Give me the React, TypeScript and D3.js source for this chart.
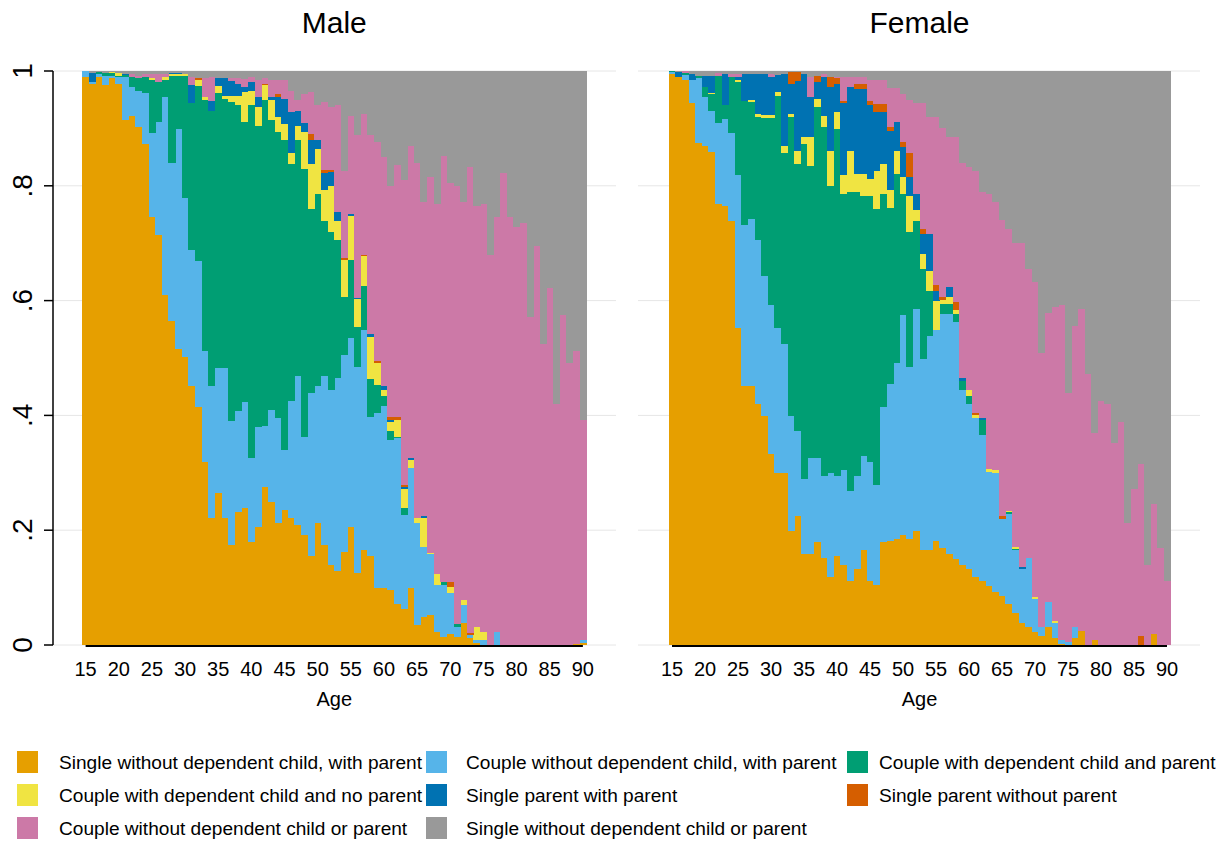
import React from 'react';
import * as d3 from 'd3';

const ages = [15,16,17,18,19,20,21,22,23,24,25,26,27,28,29,30,31,32,33,34,35,36,37,38,39,40,41,42,43,44,45,46,47,48,49,50,51,52,53,54,55,56,57,58,59,60,61,62,63,64,65,66,67,68,69,70,71,72,73,74,75,76,77,78,79,80,81,82,83,84,85,86,87,88,89,90];
const xTicks = [15,20,25,30,35,40,45,50,55,60,65,70,75,80,85,90];
const yTicks = [0, 0.2, 0.4, 0.6, 0.8, 1];
const yTickLabels = ['0', '.2', '.4', '.6', '.8', '1'];

const keys = ['swp','cwp','cdp','cdn','spp','spn','cnn','snn'];
const categoryLabels = [
  'Single without dependent child, with parent',
  'Couple without dependent child, with parent',
  'Couple with dependent child and parent',
  'Couple with dependent child and no parent',
  'Single parent with parent',
  'Single parent without parent',
  'Couple without dependent child or parent',
  'Single without dependent child or parent',
];
const colors = ['#E69F00','#56B4E9','#009E73','#F0E442','#0072B2','#D55E00','#CC79A7','#999999'];

// ---------- Male ----------
const maleSWP = [.99,.977,.99,.975,.988,.978,.915,.922,.902,.872, .745,.715,.609,.565,.515,.502,.452,.415,.319,.222, .265,.222,.175,.232,.239,.18,.205,.275,.249,.212, .235,.222,.209,.192,.155,.212,.175,.139,.129,.162, .205,.125,.165,.155,.099,.099,.095,.072,.062,.099, .035,.048,.052,.023,.014,.02,.014,.039,.012,.003, 0,0,0,0,0,0,0,0,0,0, 0,0,0,0,.002,.004];
const maleCWP = [.01,.003,.004,.017,.004,.012,.075,.05,.063,.09, .147,.197,.346,.274,.384,.277,.237,.254,.193,.23, .217,.26,.216,.176,.184,.145,.174,.107,.16,.183, .104,.203,.26,.17,.284,.24,.294,.306,.336,.343, .33,.36,.384,.243,.306,.318,.263,.288,.164,.209, .177,.123,.106,.082,.091,.07,.017,.031,.006,.006, .008,0,.022,0,0,0,0,0,0,0, 0,0,0,0,0,.004];
const maleCDP = [0,0,.004,.004,.004,.002,.003,.018,.023,.028, .092,.068,.03,.153,.093,.212,.255,.305,.438,.479, .479,.47,.555,.532,.488,.615,.526,.567,.506,.498, .54,.413,.41,.468,.321,.334,.27,.274,.24,.101, .135,.069,.077,.065,.048,.017,.014,.003,.012,0, 0,0,0,0,.004,0,.006,0,0,0, 0,0,0,0,0,0,0,0,0,0, 0,0,0,0,0,0];
const maleCDN = [0,0,0,0,.002,.004,0,0,0,0, .004,0,.005,.002,.002,.003,0,.01,.005,0, .012,.005,.011,.017,.052,.025,.032,.026,.034,.027, .029,.02,.026,.063,.078,.078,.053,.081,.034,.065, .078,.048,.052,.073,.038,.011,.017,.029,.034,.015, .009,.05,.003,.019,0,.011,0,.009,0,.022, .014,0,0,0,0,0,0,0,0,0, 0,0,0,0,0,0];
const maleSPP = [0,.016,0,0,0,0,.002,0,0,0, 0,0,0,.002,.002,0,.032,0,0,.017, .015,.031,.026,.02,.009,.015,.018,0,.006,.035, .043,.07,.026,.017,.042,.016,.03,.024,.015,0, .003,.003,0,.006,0,.006,.003,0,.004,.002, 0,.004,0,0,0,0,0,0,0,0, 0,0,0,0,0,0,0,0,0,0, 0,0,0,0,0,0];
const maleSPN = [0,0,0,0,0,0,0,0,0,0, 0,0,0,0,0,0,0,.004,0,0, 0,0,0,0,0,0,0,.003,0,.005, 0,0,0,0,.01,0,.006,.004,0,.004, 0,0,.002,0,.003,0,.005,.005,.003,0, 0,0,0,0,0,.008,0,0,.003,0, 0,0,0,0,0,0,0,0,0,0, 0,0,0,0,0,0];
const maleCNN = [0,0,0,0,0,0,0,.004,.004,.004, .006,.014,.004,0,0,0,.013,0,.033,.041, 0,0,.005,.01,.014,.01,.03,.01,.03,.025, .034,.038,.019,.05,.073,.06,.118,.109,.186,.15, .171,.284,.245,.346,.383,.4,.403,.44,.531,.545, .619,.547,.654,.645,.743,.696,.762,.693,.811,.734, .747,.679,.723,.822,.745,.729,.735,.572,.695,.525, .622,.419,.575,.492,.51,.384];
const maleSNN = [0,.004,.002,.004,.002,.004,.005,.006,.008,.006, .006,.006,.006,.004,.004,.006,.011,.012,.012,.011, .012,.012,.012,.013,.014,.01,.015,.012,.015,.015, .015,.034,.05,.04,.037,.06,.054,.063,.06,.175, .078,.111,.075,.112,.123,.149,.2,.163,.19,.13, .16,.228,.185,.231,.148,.195,.201,.228,.168,.235, .231,.321,.255,.178,.255,.271,.265,.428,.305,.475, .378,.581,.425,.508,.488,.608];

// ---------- Female ----------
const femaleSWP = [.995,.989,.985,.945,.875,.869,.859,.769,.765,.739, .552,.452,.452,.419,.399,.332,.299,.299,.199,.225, .159,.159,.179,.152,.119,.155,.139,.112,.132,.165, .112,.105,.179,.182,.185,.192,.185,.199,.165,.165, .182,.169,.159,.149,.139,.132,.119,.112,.102,.092, .085,.072,.055,.039,.032,.022,.015,.032,.012,.002, 0,.012,.025,0,.009,0,0,0,0,0, 0,0,0,.019,0,0];
const femaleCWP = [.003,0,.008,.04,.112,.085,.071,.141,.151,.153, .267,.28,.29,.286,.243,.26,.253,.226,.2,.147, .13,.166,.146,.143,.18,.14,.166,.157,.163,.164, .207,.174,.236,.273,.307,.383,.30,.386,.334,.374, .366,.408,.418,.413,.305,.287,.276,.253,.2,.208, .135,.157,.11,.093,.12,.058,.017,.043,.027,.006, .006,.02,0,0,0,0,0,0,0,0, 0,0,0,0,0,0];
const femaleCDP = [.002,0,.004,0,.005,.018,.03,.082,.024,.098, .161,.216,.204,.214,.276,.326,.405,.333,.52,.466, .584,.51,.612,.607,.501,.604,.481,.52,.494,.454, .464,.481,.371,.307,.329,.21,.234,.154,.156,.078, 0,.017,.017,.015,.016,.014,0,.027,0,0, 0,.002,.003,0,0,0,0,0,0,0, 0,0,0,0,0,0,0,0,0,0, 0,0,0,0,0,0];
const femaleCDN = [0,0,0,0,0,0,.002,0,0,0, .005,0,.004,.006,.006,.006,.006,.012,.006,.023, .012,.05,.014,.02,.061,.029,.032,.072,.032,.038, .029,.066,.052,.03,.04,.03,.064,.018,.026,.035, .052,.007,.012,.006,0,.011,.005,0,.005,.005, 0,.002,.003,0,0,.003,0,0,.003,0, 0,0,0,0,0,0,0,0,0,0, 0,0,0,0,0,0];
const femaleSPP = [0,.01,0,.01,0,.02,.03,0,.055,0, .005,.047,.045,.07,.071,.066,.03,.125,.052,.122, .11,.069,.029,.067,.111,.049,.127,.111,.148,.148, .128,.102,.09,.104,.05,.052,.032,.029,.035,.064, .017,0,.017,0,.006,0,0,.004,0,0, 0,0,0,.004,0,0,0,0,0,0, 0,0,0,0,0,0,0,0,0,0, 0,0,0,0,0,0];
const femaleSPN = [0,0,0,0,0,0,0,0,0,0, 0,0,0,0,0,0,0,0,.021,.015, 0,0,.012,0,.017,.01,.003,0,.008,.008, .008,.015,.015,.006,0,.009,.043,0,.009,0, .011,.005,0,.014,0,0,.005,0,0,0, .005,0,0,0,0,0,0,0,0,0, 0,0,0,0,0,0,0,0,0,0, 0,.015,0,0,0,0];
const femaleCNN = [0,0,.003,0,0,0,0,.004,0,.005, .005,0,0,0,0,.005,0,0,0,0, 0,.035,0,.005,0,.003,.041,.017,.012,.012, .037,.042,.042,.068,.059,.084,.092,.159,.22,.204, .291,.294,.262,.288,.374,.388,.42,.394,.478,.467, .515,.492,.529,.564,.503,.549,.477,.504,.547,.584, .433,.523,.56,.472,.36,.425,.419,.352,.389,.212, .272,.30,.139,.226,.169,.112];
const femaleSNN = [0,.001,0,.005,.008,.008,.008,.004,.005,.005, .005,.005,.005,.005,.005,.005,.007,.005,.002,.002, .005,.011,.008,.006,.011,.01,.011,.011,.011,.011, .015,.015,.015,.03,.03,.04,.05,.055,.055,.08, .081,.1,.115,.115,.16,.168,.175,.21,.215,.228, .26,.275,.30,.30,.345,.368,.491,.421,.411,.408, .561,.445,.415,.528,.631,.575,.581,.648,.611,.788, .728,.685,.861,.755,.831,.888];

const maleSeries = [maleSWP, maleCWP, maleCDP, maleCDN, maleSPP, maleSPN, maleCNN, maleSNN];
const femaleSeries = [femaleSWP, femaleCWP, femaleCDP, femaleCDN, femaleSPP, femaleSPN, femaleCNN, femaleSNN];

const FONT = '"Liberation Sans", Arial, Helvetica, sans-serif';

const W = 1232;
const H = 842;
const plotTop = 71;
const plotBottom = 645;

type PanelProps = {
  title: string;
  series: number[][];
  x0: number;
  x1: number;
  gridX0: number;
  gridX1: number;
  showYAxis: boolean;
};

function Panel({ title, series, x0, x1, gridX0, gridX1, showYAxis }: PanelProps) {
  const rows = ages.map((a, i) => {
    const r: any = { age: a };
    keys.forEach((k, j) => { r[k] = series[j][i]; });
    return r;
  });
  const stacked = d3.stack<any>().keys(keys).offset(d3.stackOffsetExpand)(rows);
  const x = d3.scaleBand<number>().domain(ages).range([x0, x1]).padding(0);
  const y = d3.scaleLinear().domain([0, 1]).range([plotBottom, plotTop]);
  const bw = x.bandwidth();
  const cx = (x0 + x1) / 2;
  const first = (x(ages[0]) as number) + bw / 2;
  const last = (x(ages[ages.length - 1]) as number) + bw / 2;

  return (
    <g>
      {yTicks.map((t) => (
        <line key={'g' + t} x1={gridX0} x2={gridX1} y1={y(t)} y2={y(t)} stroke="#e6e6e6" strokeWidth={1} />
      ))}
      <g shapeRendering="crispEdges">
        {stacked.map((layer, li) => (
          <g key={keys[li]} fill={colors[li]}>
            {layer.map((d, i) => {
              const h = y(d[0]) - y(d[1]);
              if (h <= 0) return null;
              return (
                <rect key={i} x={x(ages[i]) as number} width={bw + 0.4} y={y(d[1])} height={h} />
              );
            })}
          </g>
        ))}
      </g>
      <line x1={first} x2={last} y1={plotBottom + 1} y2={plotBottom + 1} stroke="#000" strokeWidth={2} />
      {xTicks.map((t) => (
        <text key={'x' + t} x={(x(t) as number) + bw / 2} y={676} textAnchor="middle" fontSize={20} fontFamily={FONT} fill="#000">{t}</text>
      ))}
      <text x={cx} y={706} textAnchor="middle" fontSize={20} fontFamily={FONT} fill="#000">Age</text>
      <text x={cx} y={33} textAnchor="middle" fontSize={30} fontFamily={FONT} fill="#000">{title}</text>
      {showYAxis && (
        <g>
          <line x1={53} x2={53} y1={plotTop} y2={plotBottom} stroke="#000" strokeWidth={1.5} />
          {yTicks.map((t, i) => (
            <g key={'y' + t}>
              <line x1={44} x2={53} y1={y(t)} y2={y(t)} stroke="#000" strokeWidth={1.5} />
              <text transform={`translate(32,${y(t)}) rotate(-90)`} textAnchor="middle" fontSize={28} fontFamily={FONT} fill="#000">{yTickLabels[i]}</text>
            </g>
          ))}
        </g>
      )}
    </g>
  );
}

const legendCols = [
  { sx: 17, tx: 59 },
  { sx: 426, tx: 466 },
  { sx: 847, tx: 879 },
];
const legendRows = [762, 795, 828];

export default function App() {
  return (
    <svg width={W} height={H} viewBox={`0 0 ${W} ${H}`} style={{ position: 'absolute', left: 0, top: 0, background: '#fff' }}>
      <rect x={0} y={0} width={W} height={H} fill="#fff" />
      <Panel title="Male" series={maleSeries} x0={82.3} x1={586.2} gridX0={53} gridX1={616} showYAxis={true} />
      <Panel title="Female" series={femaleSeries} x0={668.7} x1={1170.3} gridX0={638} gridX1={1200} showYAxis={false} />
      {categoryLabels.map((lab, i) => {
        const col = legendCols[i % 3];
        const cy = legendRows[Math.floor(i / 3)];
        return (
          <rect key={'s' + i} x={col.sx} y={cy - 11} width={21} height={22} fill={colors[i]} />
        );
      })}
      {categoryLabels.map((lab, i) => {
        const col = legendCols[i % 3];
        const cy = legendRows[Math.floor(i / 3)];
        return (
          <text key={'t' + i} x={col.tx} y={cy + 7} fontSize={19.1} fontFamily={FONT} fill="#000">{lab}</text>
        );
      })}
    </svg>
  );
}
